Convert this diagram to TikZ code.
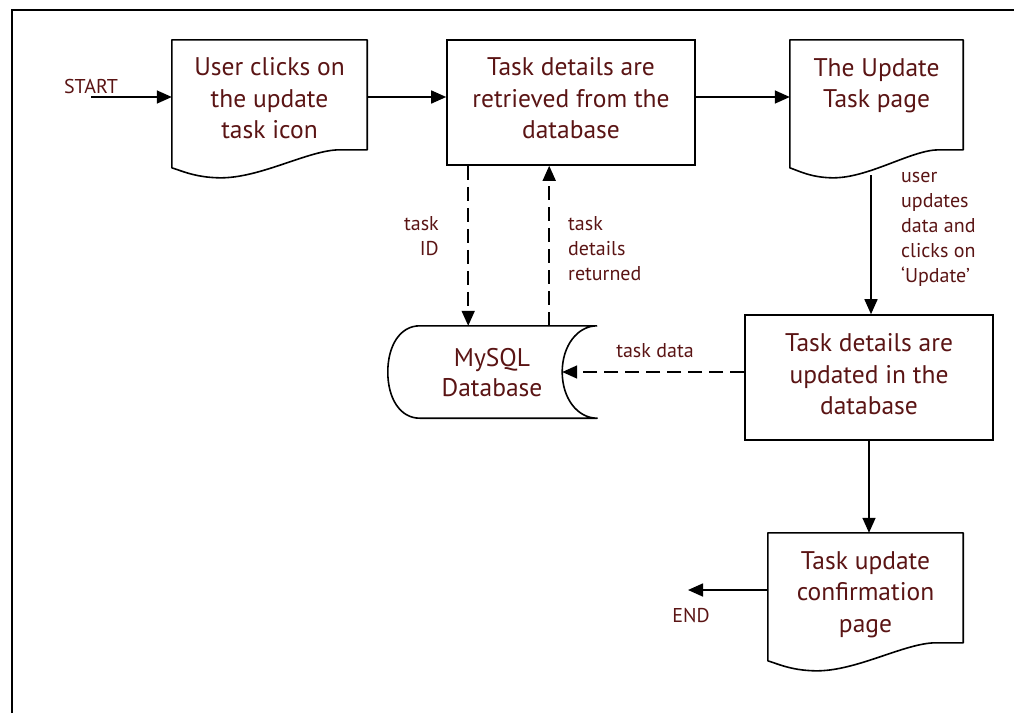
\documentclass[tikz,border=0pt]{standalone}
\usepackage{fontspec}
\setmainfont{PT Sans}
\usetikzlibrary{arrows.meta,calc}
\definecolor{txt}{RGB}{90,20,20}
\newcommand\bigtxt{\fontsize{25.5}{31.5}\selectfont}
\newcommand\smalltxt{\fontsize{20}{25}\selectfont}
\newcommand\docoutline[1]{%
  \draw[line width=1.6, line join=round]
    (#1.north west) -- (#1.north east) -- ($(#1.north east)+(0,110)$)
    -- ($(#1.north west)!0.86!(#1.north east)+(0,110)$)
    .. controls ($(#1.north west)!0.70!(#1.north east)+(0,110)$) and ($(#1.north west)!0.45!(#1.north east)+(0,139)$)
    .. ($(#1.north west)!0.24!(#1.north east)+(0,138)$)
    .. controls ($(#1.north west)!0.12!(#1.north east)+(0,137.5)$) and ($(#1.north west)!0.05!(#1.north east)+(0,131)$)
    .. ($(#1.north west)+(0,128)$) -- cycle;}
\begin{document}
\begin{tikzpicture}[x=1pt,y=-1pt,
  rectbox/.style={draw, line width=1.6, minimum width=248, minimum height=125, inner sep=0},
  docbox/.style={minimum height=114, inner sep=0},
  bigt/.style={inner sep=0, align=center, font=\bigtxt, text=txt},
  lbl/.style={inner sep=0, font=\smalltxt, text=txt},
  arr/.style={line width=1.6, -{Triangle[length=15pt,width=13pt]}},
  dasharr/.style={arr, dash pattern=on 14pt off 7pt}]
\useasboundingbox (0,0) rectangle (1014,713);
\draw[line width=2] (12,713) -- (12,10) -- (1014,10);

% shapes
\node[docbox, minimum width=195] (n1) at (269.5,97) {};
\node[rectbox] (n2) at (571,102.5) {};
\node[docbox, minimum width=173] (n3) at (876.5,97) {};
\node[rectbox] (n4) at (869,377.5) {};
\node[docbox, minimum width=195] (n5) at (865.5,590) {};
\node[minimum width=140, minimum height=92, inner sep=0] (db) at (492,372) {};

\docoutline{n1}
\docoutline{n3}
\docoutline{n5}
\draw[line width=1.6, line join=round]
  ($(db.north east)+(35,0)$) -- ($(db.north west)+(-2,0)$)
  .. controls ($(db.north west)+(-22,0)$) and ($(db.west)+(-34,-26)$) .. ($(db.west)+(-34,0)$)
  .. controls ($(db.west)+(-34,26)$) and ($(db.south west)+(-22,0)$) .. ($(db.south west)+(-2,0)$)
  -- ($(db.south east)+(35,0)$)
  .. controls ($(db.south east)+(15,0)$) and ($(db.east)+(0,26)$) .. (db.east)
  .. controls ($(db.east)+(0,-26)$) and ($(db.north east)+(15,0)$) .. ($(db.north east)+(35,0)$);

% texts in shapes
\node[bigt] (n1t) at (269.5,98.5) {User clicks on\\the update\\task icon};
\node[bigt] (n2t) at (571,98.5) {Task details are\\retrieved from the\\database};
\node[bigt] (n3t) at (876.5,86) {The Update\\Task page};
\node[bigt] (n4t) at (869,374.5) {Task details are\\updated in the\\database};
\node[bigt] (n5t) at (865.5,594.5) {Task update\\confirmation\\page};
\node[bigt, font=\fontsize{25.5}{30}\selectfont] (dbt) at (492,372.5) {MySQL\\Database};

% labels
\coordinate (start) at (91,97);
\node[lbl] (startlbl) at (91,86) {START};
\coordinate (end) at (688,590);
\node[lbl] (endlbl) at (691,615) {END};
\node[lbl, anchor=east, align=right] (tid) at (439,236) {task\\ID};
\node[lbl, anchor=west, align=left] (tdr) at (568,249) {task\\details\\returned};
\node[lbl, anchor=west, align=left] (uud) at (901,229.5) {user\\updates\\data and\\clicks on\\‘Update’};
\node[lbl] (tdata) at (655,351) {task data};

% connectors
\draw[arr] (start) -- (n1.west);
\draw[arr] (n1.east |- start) -- (n2.west |- start);
\draw[arr] (n2.east |- start) -- (n3.west);
\coordinate (a1) at ($(n2.south west)+(22,0)$);
\coordinate (a2) at ($(n2.south west)+(103,0)$);
\draw[dasharr] (a1) -- (a1 |- db.north);
\draw[dasharr] (a2 |- db.north) -- (a2);
\coordinate (n3b) at (871,175);
\draw[arr] (n3b) -- (n3b |- n4.north);
\draw[dasharr] (n4.west |- db.east) -- (db.east);
\draw[arr] (n4.south) -- (n4.south |- n5.north);
\draw[arr] (n5.west) -- (end);
\end{tikzpicture}
\end{document}
